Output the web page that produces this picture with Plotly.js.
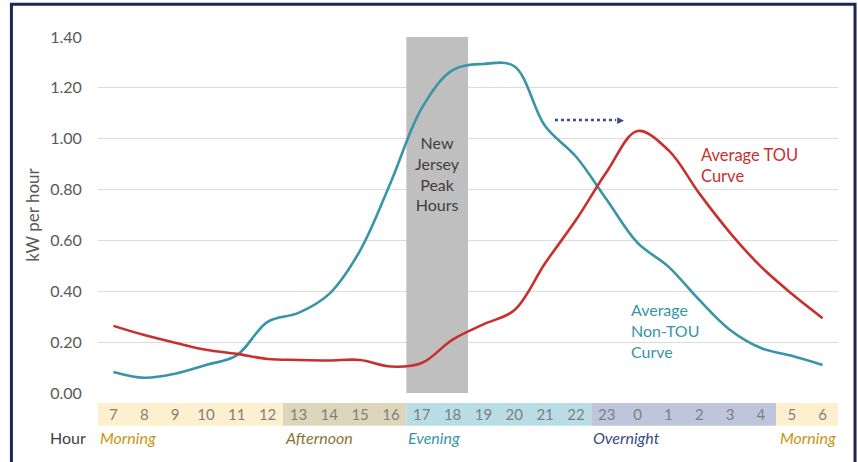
<!DOCTYPE html>
<html>
<head>
<meta charset="utf-8">
<script src="https://cdn.plot.ly/plotly-3.0.1.min.js"></script>
<style>html,body{margin:0;padding:0;background:#fff;}#chart{width:858px;height:462px;}</style>
</head>
<body>
<div id="chart"></div>
<script>
const hours = ['7','8','9','10','11','12','13','14','15','16','17','18','19','20','21','22','23','0','1','2','3','4','5','6'];
const nonTouValues = [0.083,0.06,0.076,0.11,0.148,0.28,0.315,0.39,0.56,0.83,1.12,1.27,1.294,1.285,1.05,0.93,0.76,0.59,0.497,0.366,0.248,0.177,0.146,0.11];
const touValues = [0.264,0.228,0.198,0.17,0.154,0.134,0.13,0.128,0.13,0.104,0.118,0.21,0.27,0.325,0.51,0.68,0.87,1.03,0.955,0.785,0.63,0.497,0.39,0.294];
const yTickVals = [0,0.2,0.4,0.6,0.8,1.0,1.2,1.4];
const yTickText = ['0.00','0.20','0.40','0.60','0.80','1.00','1.20','1.40'];
const periods = [
  {name:'Morning', start:0, end:5, fill:'#fdf0cf', color:'#c9960f', align:'left'},
  {name:'Afternoon', start:6, end:9, fill:'#ded6bb', color:'#8b7536', align:'left'},
  {name:'Evening', start:10, end:15, fill:'#b8dde6', color:'#3b95a8', align:'left'},
  {name:'Overnight', start:16, end:21, fill:'#bfc6dc', color:'#3d4a85', align:'left'},
  {name:'Morning', start:22, end:23, fill:'#fdf0cf', color:'#c9960f', align:'right'}
];
const FONT = 'Lato, "Open Sans", sans-serif';
const TEAL = '#3895a7', RED = '#c8302e', NAVY = '#3d4a85';

const traces = [
  {x: hours, y: nonTouValues, type:'scatter', mode:'lines', line:{color:TEAL, width:2.6, shape:'spline', smoothing:1}, name:'Average Non-TOU Curve', hoverinfo:'skip'},
  {x: hours, y: touValues, type:'scatter', mode:'lines', line:{color:RED, width:2.6, shape:'spline', smoothing:1}, name:'Average TOU Curve', hoverinfo:'skip'}
];

const shapes = [
  {type:'rect', xref:'x', yref:'y', x0:9.5, x1:11.5, y0:0, y1:1.4, fillcolor:'#bfbfbf', line:{width:0}, layer:'between'},
  {type:'line', xref:'x', yref:'y', x0:14.32, x1:16.3, y0:1.074, y1:1.074, line:{color:NAVY, width:2.5, dash:'dot'}},
  {type:'rect', xref:'paper', yref:'paper', x0:-0.117, x1:1.023, y0:-0.4, y1:1.092, line:{color:'#1c2757', width:3}, fillcolor:'rgba(0,0,0,0)', layer:'above'}
];
periods.forEach(p => {
  shapes.push({type:'rect', xref:'x', yref:'paper', x0:p.start-0.5, x1:p.end+0.5, y0:-0.092, y1:-0.028, fillcolor:p.fill, line:{width:0}, layer:'below'});
});

const annotations = [
  {x:10.5, y:0.865, xref:'x', yref:'y', text:'New<br>Jersey<br>Peak<br>Hours', showarrow:false, font:{family:FONT, size:16, color:'#404040'}, align:'center'},
  {x:19.0, y:0.893, xref:'x', yref:'y', text:'Average TOU<br>Curve', showarrow:false, xanchor:'left', align:'left', font:{family:FONT, size:16.5, color:RED}},
  {x:16.72, y:0.245, xref:'x', yref:'y', text:'Average<br>Non-TOU<br>Curve', showarrow:false, xanchor:'left', align:'left', font:{family:FONT, size:16, color:TEAL}},
  {x:16.62, y:1.074, xref:'x', yref:'y', text:'\u25B6', showarrow:false, xanchor:'right', yanchor:'middle', font:{family:'DejaVu Sans', size:9, color:NAVY}},
  {x:-0.014, y:-0.126, xref:'paper', yref:'paper', text:'Hour', showarrow:false, xanchor:'right', yanchor:'middle', font:{family:FONT, size:16, color:'#404040'}}
];
periods.forEach(p => {
  annotations.push({x: p.align==='left' ? p.start-0.5 : p.end+0.5, y:-0.126, xref:'x', yref:'paper', text:'<i>'+p.name+'</i>', showarrow:false, xanchor:p.align, yanchor:'middle', font:{family:FONT, size:16, color:p.color}});
});

const layout = {
  width:858, height:462,
  margin:{l:98, r:20, t:37, b:69},
  paper_bgcolor:'#ffffff', plot_bgcolor:'#ffffff',
  showlegend:false,
  font:{family:FONT},
  xaxis:{type:'category', range:[-0.5,23.5], showgrid:false, zeroline:false, showline:false,
         ticks:'outside', ticklen:8, tickcolor:'rgba(0,0,0,0)', tickfont:{family:FONT, size:15, color:'#7f7f7f'}, fixedrange:true},
  yaxis:{range:[0,1.4], tickvals:yTickVals, ticktext:yTickText, showgrid:true, gridcolor:'#dcdcdc', gridwidth:1,
         zeroline:false, showline:false, ticks:'outside', ticklen:12, tickcolor:'rgba(0,0,0,0)',
         tickfont:{family:FONT, size:16, color:'#595959'},
         title:{text:'kW per hour', font:{family:FONT, size:17, color:'#595959'}, standoff:6}, fixedrange:true},
  shapes: shapes,
  annotations: annotations
};
Plotly.newPlot('chart', traces, layout, {displayModeBar:false, staticPlot:true});
</script>
</body>
</html>
